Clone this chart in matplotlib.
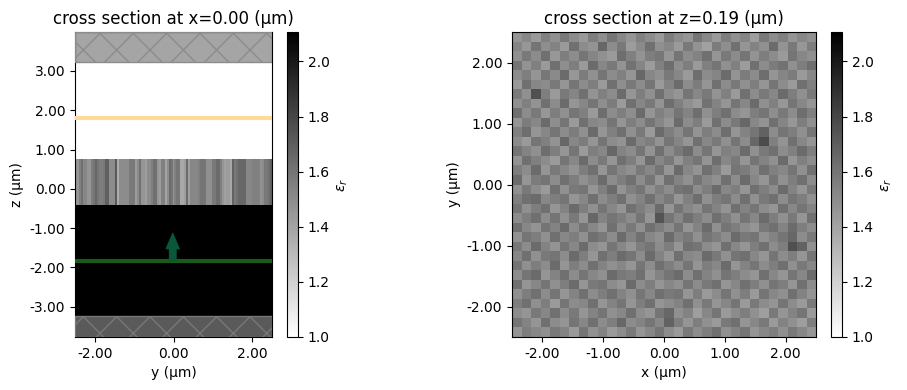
import numpy as np
import matplotlib
matplotlib.use("Agg")
import matplotlib.pyplot as plt
from matplotlib.patches import Rectangle

# Approximate tone readings: strip bands were read from zoomed crops.
strip_eps = [
    1.46,1.46,1.55,1.62,1.52,1.52,1.46,1.46,1.56,1.60,1.66,1.60,1.56,1.56,1.58,1.69,1.69,1.50,1.50,1.50,1.72,1.36,1.50,1.50,1.50,1.50,1.50,1.58,1.58,1.58,1.43,1.50,1.62,
    1.46,1.46,1.42,1.50,1.50,1.55,1.62,1.62,1.46,1.42,1.55,1.55,1.40,1.50,1.64,1.60,1.46,1.55,1.60,1.60,1.38,1.38,1.42,1.64,1.42,1.52,1.52,1.52,1.52,1.55,1.60,1.60,1.60,
    1.48,1.48,1.48,1.58,1.58,1.64,1.64,1.55,1.46,1.41,1.43,1.43,1.38,1.68,1.58,1.62,1.66,1.66,1.66,1.66,1.52,1.52,1.52,1.55,1.55,1.55,1.55,1.47,1.50,1.58,1.58,1.62,1.68,
]
# Coarse (32 x 32) estimate of the 100 x 100 cell slice; not a cell-exact transcription.
slice_eps = [
    [1.46,1.52,1.44,1.55,1.48,1.58,1.50,1.44,1.56,1.49,1.60,1.52,1.46,1.55,1.50,1.44,1.57,1.50,1.46,1.60,1.52,1.44,1.56,1.48,1.53,1.42,1.58,1.50,1.55,1.46,1.52,1.48],
    [1.53,1.45,1.60,1.49,1.54,1.44,1.62,1.50,1.47,1.66,1.50,1.58,1.43,1.51,1.62,1.48,1.52,1.44,1.58,1.47,1.41,1.57,1.49,1.62,1.46,1.54,1.48,1.64,1.47,1.58,1.45,1.56],
    [1.48,1.58,1.50,1.62,1.45,1.56,1.50,1.60,1.53,1.48,1.44,1.63,1.55,1.47,1.56,1.59,1.46,1.60,1.50,1.54,1.62,1.46,1.58,1.50,1.60,1.47,1.56,1.50,1.44,1.60,1.52,1.48],
    [1.60,1.47,1.55,1.44,1.62,1.49,1.56,1.44,1.64,1.52,1.58,1.47,1.61,1.53,1.43,1.55,1.63,1.49,1.56,1.44,1.55,1.60,1.48,1.55,1.43,1.62,1.50,1.57,1.61,1.48,1.56,1.63],
    [1.50,1.56,1.46,1.59,1.51,1.64,1.45,1.57,1.48,1.60,1.50,1.55,1.46,1.66,1.52,1.48,1.58,1.52,1.44,1.63,1.50,1.53,1.64,1.47,1.57,1.50,1.63,1.46,1.53,1.57,1.44,1.52],
    [1.44,1.62,1.52,1.50,1.58,1.46,1.60,1.50,1.56,1.44,1.62,1.49,1.58,1.50,1.60,1.44,1.54,1.64,1.50,1.57,1.46,1.62,1.50,1.58,1.48,1.56,1.46,1.60,1.50,1.44,1.62,1.55],
    [1.57,1.48,1.76,1.56,1.44,1.58,1.53,1.62,1.47,1.55,1.50,1.64,1.46,1.56,1.48,1.62,1.50,1.46,1.60,1.52,1.58,1.47,1.55,1.44,1.62,1.50,1.58,1.52,1.64,1.56,1.48,1.58],
    [1.48,1.55,1.47,1.62,1.50,1.64,1.46,1.52,1.60,1.49,1.57,1.44,1.62,1.52,1.58,1.47,1.63,1.55,1.48,1.44,1.61,1.54,1.46,1.60,1.52,1.64,1.48,1.55,1.45,1.60,1.52,1.46],
    [1.62,1.50,1.58,1.45,1.56,1.48,1.60,1.55,1.44,1.63,1.50,1.56,1.49,1.64,1.46,1.55,1.50,1.60,1.54,1.63,1.48,1.56,1.62,1.50,1.46,1.56,1.60,1.49,1.58,1.50,1.63,1.55],
    [1.46,1.57,1.52,1.64,1.49,1.60,1.44,1.62,1.52,1.50,1.60,1.46,1.56,1.50,1.60,1.52,1.46,1.64,1.50,1.56,1.44,1.62,1.50,1.58,1.66,1.52,1.47,1.62,1.53,1.45,1.56,1.48],
    [1.55,1.63,1.46,1.52,1.60,1.50,1.57,1.48,1.64,1.46,1.55,1.62,1.48,1.58,1.44,1.64,1.56,1.50,1.60,1.47,1.56,1.50,1.63,1.46,1.54,1.60,1.68,1.50,1.60,1.56,1.48,1.60],
    [1.50,1.44,1.60,1.55,1.47,1.66,1.52,1.57,1.46,1.60,1.50,1.47,1.64,1.52,1.56,1.47,1.60,1.53,1.46,1.62,1.52,1.58,1.48,1.60,1.50,1.66,1.78,1.55,1.47,1.62,1.52,1.46],
    [1.60,1.54,1.48,1.63,1.56,1.46,1.60,1.44,1.56,1.52,1.66,1.54,1.50,1.60,1.47,1.62,1.50,1.58,1.64,1.50,1.60,1.46,1.55,1.52,1.64,1.48,1.58,1.62,1.50,1.55,1.64,1.56],
    [1.47,1.62,1.55,1.50,1.44,1.60,1.52,1.64,1.50,1.58,1.46,1.62,1.56,1.46,1.64,1.52,1.58,1.46,1.55,1.60,1.47,1.63,1.52,1.58,1.46,1.60,1.54,1.48,1.64,1.46,1.55,1.50],
    [1.56,1.50,1.64,1.46,1.58,1.52,1.47,1.56,1.62,1.46,1.60,1.52,1.48,1.58,1.52,1.60,1.46,1.64,1.52,1.47,1.62,1.55,1.44,1.60,1.57,1.50,1.62,1.55,1.52,1.60,1.48,1.62],
    [1.64,1.46,1.57,1.60,1.50,1.62,1.56,1.48,1.54,1.64,1.50,1.56,1.62,1.50,1.60,1.46,1.62,1.54,1.48,1.60,1.52,1.48,1.62,1.50,1.64,1.52,1.46,1.60,1.48,1.56,1.62,1.50],
    [1.48,1.58,1.50,1.44,1.62,1.48,1.58,1.60,1.46,1.55,1.64,1.47,1.55,1.60,1.48,1.56,1.50,1.60,1.62,1.50,1.56,1.64,1.52,1.56,1.46,1.62,1.56,1.50,1.64,1.54,1.46,1.58],
    [1.55,1.62,1.64,1.52,1.56,1.60,1.46,1.52,1.62,1.50,1.56,1.62,1.48,1.54,1.62,1.52,1.58,1.46,1.55,1.63,1.48,1.56,1.60,1.50,1.62,1.48,1.58,1.62,1.50,1.60,1.56,1.48],
    [1.60,1.48,1.56,1.62,1.46,1.54,1.64,1.56,1.48,1.60,1.52,1.46,1.62,1.56,1.50,1.64,1.46,1.60,1.52,1.48,1.60,1.54,1.47,1.62,1.54,1.60,1.50,1.46,1.62,1.52,1.60,1.54],
    [1.50,1.56,1.62,1.50,1.60,1.48,1.58,1.46,1.66,1.54,1.60,1.56,1.50,1.60,1.46,1.74,1.60,1.52,1.62,1.56,1.50,1.62,1.56,1.48,1.60,1.52,1.64,1.56,1.48,1.58,1.46,1.62],
    [1.62,1.52,1.47,1.60,1.54,1.64,1.50,1.60,1.52,1.46,1.62,1.50,1.58,1.48,1.62,1.56,1.50,1.60,1.46,1.54,1.64,1.48,1.60,1.56,1.50,1.46,1.58,1.62,1.54,1.64,1.56,1.50],
    [1.47,1.60,1.56,1.48,1.62,1.52,1.56,1.48,1.62,1.58,1.50,1.64,1.54,1.62,1.52,1.48,1.64,1.54,1.58,1.48,1.60,1.56,1.50,1.64,1.58,1.60,1.48,1.54,1.60,1.66,1.50,1.58],
    [1.58,1.50,1.64,1.54,1.47,1.60,1.52,1.64,1.50,1.46,1.60,1.52,1.46,1.56,1.60,1.50,1.56,1.46,1.62,1.60,1.50,1.46,1.62,1.52,1.46,1.56,1.62,1.50,1.56,1.76,1.68,1.48],
    [1.52,1.62,1.48,1.58,1.60,1.50,1.64,1.56,1.46,1.62,1.56,1.64,1.60,1.50,1.64,1.54,1.46,1.62,1.52,1.50,1.64,1.58,1.48,1.60,1.62,1.52,1.46,1.60,1.50,1.56,1.46,1.60],
    [1.60,1.48,1.56,1.50,1.64,1.46,1.56,1.50,1.62,1.54,1.48,1.52,1.46,1.60,1.50,1.62,1.56,1.50,1.60,1.46,1.56,1.52,1.64,1.46,1.54,1.60,1.50,1.56,1.62,1.48,1.58,1.52],
    [1.50,1.60,1.64,1.46,1.54,1.62,1.50,1.60,1.52,1.48,1.64,1.58,1.56,1.62,1.46,1.54,1.60,1.64,1.50,1.62,1.54,1.48,1.60,1.56,1.50,1.46,1.62,1.52,1.46,1.60,1.52,1.64],
    [1.62,1.46,1.52,1.60,1.48,1.56,1.64,1.46,1.58,1.60,1.50,1.46,1.64,1.50,1.56,1.46,1.52,1.48,1.60,1.50,1.58,1.62,1.46,1.52,1.62,1.56,1.48,1.60,1.56,1.46,1.62,1.50],
    [1.48,1.56,1.62,1.50,1.60,1.46,1.54,1.62,1.50,1.56,1.62,1.54,1.48,1.60,1.52,1.62,1.58,1.60,1.46,1.56,1.44,1.50,1.60,1.48,1.56,1.44,1.60,1.52,1.48,1.62,1.54,1.46],
    [1.56,1.62,1.48,1.56,1.44,1.60,1.50,1.52,1.62,1.46,1.54,1.60,1.46,1.56,1.62,1.46,1.50,1.54,1.62,1.48,1.58,1.46,1.52,1.60,1.44,1.58,1.50,1.46,1.60,1.50,1.44,1.58],
    [1.50,1.46,1.58,1.52,1.62,1.50,1.58,1.46,1.54,1.60,1.48,1.52,1.62,1.50,1.46,1.60,1.66,1.48,1.54,1.42,1.52,1.60,1.44,1.50,1.56,1.48,1.42,1.58,1.46,1.54,1.60,1.44],
    [1.60,1.54,1.46,1.62,1.50,1.46,1.60,1.52,1.62,1.50,1.56,1.66,1.50,1.54,1.60,1.52,1.68,1.56,1.46,1.56,1.48,1.44,1.58,1.62,1.46,1.52,1.58,1.44,1.54,1.48,1.42,1.56],
    [1.46,1.56,1.52,1.48,1.58,1.54,1.44,1.60,1.48,1.54,1.44,1.50,1.58,1.46,1.52,1.60,1.50,1.44,1.58,1.50,1.56,1.62,1.48,1.54,1.60,1.46,1.52,1.56,1.48,1.58,1.52,1.46],
]
y_ticks_left = [-2, 0, 2]
z_ticks_left = [-3, -2, -1, 0, 1, 2, 3]
ticks_right = [-2, -1, 0, 1, 2]
cbar_ticks = [1.0, 1.2, 1.4, 1.6, 1.8, 2.0]

W, H = 907, 390
fig = plt.figure(figsize=(W / 100, H / 100), dpi=100)

def ax_px(x0, y0, x1, y1):
    return fig.add_axes([x0 / W, 1 - y1 / H, (x1 - x0) / W, (y1 - y0) / H])

vmin, vmax = 1.0, 2.107
cmap = "gray_r"
fmt = lambda v, p=None: f"{v:.2f}"

# Left panel
ax = ax_px(75, 32, 272, 337)
ylo, yhi, zlo, zhi = -2.5, 2.5, -3.77, 3.99
z_strip_bot, z_strip_top = -0.41, 0.76
z_pml_top, z_pml_bot = 3.22, -3.23
ax.add_patch(Rectangle((ylo, z_pml_top), yhi - ylo, zhi - z_pml_top, fc="#a5a5a5", ec="none", zorder=1))
ax.add_patch(Rectangle((ylo, zlo), yhi - ylo, z_pml_bot - zlo, fc="#5a5a5a", ec="none", zorder=1))
ax.add_patch(Rectangle((ylo, z_strip_bot), yhi - ylo, z_pml_bot - z_strip_bot, fc="black", ec="none", zorder=1))
edges = np.linspace(ylo, yhi, len(strip_eps) + 1)
ax.pcolormesh(edges, [z_strip_bot, z_strip_top], np.array([strip_eps]), cmap=cmap, vmin=vmin, vmax=vmax, zorder=2)
plt.rcParams["hatch.linewidth"] = 1.0
ax.add_patch(Rectangle((ylo, z_pml_top), yhi - ylo, zhi - z_pml_top, fc="none", ec="#8c8c8c", hatch="x", lw=1, zorder=3))
ax.add_patch(Rectangle((ylo, zlo), yhi - ylo, z_pml_bot - zlo, fc="none", ec="#787878", hatch="x", lw=1, zorder=3))
ax.axhline(1.8, color="#ffd89c", lw=3.0, zorder=4)
ax.axhline(-1.83, color="#1a5a1a", lw=3.0, zorder=4)
ax.arrow(-0.02, -1.83, 0, 0.71, width=0.18, head_width=0.35, head_length=0.41,
         length_includes_head=True, fc="#0a583a", ec="#0a583a", lw=0.5, zorder=5)
ax.set_xlim(ylo, yhi)
ax.set_ylim(zlo, zhi)
ax.set_xticks(y_ticks_left)
ax.set_yticks(z_ticks_left)
ax.xaxis.set_major_formatter(fmt)
ax.yaxis.set_major_formatter(fmt)
ax.set_xlabel("y (μm)")
ax.set_ylabel("z (μm)")
ax.set_title("cross section at x=0.00 (μm)")

sm = plt.cm.ScalarMappable(norm=plt.Normalize(vmin, vmax), cmap=cmap)
cax = ax_px(287, 32, 298, 337)
cb = fig.colorbar(sm, cax=cax)
cb.set_ticks(cbar_ticks)
cb.set_label(r"$\epsilon_r$")

# Right panel
ax2 = ax_px(512, 32, 816, 337)
n = len(slice_eps)
xe = np.linspace(-2.5, 2.5, n + 1)
ax2.pcolormesh(xe, xe[::-1], np.array(slice_eps), cmap=cmap, vmin=vmin, vmax=vmax)
ax2.set_xlim(-2.5, 2.5)
ax2.set_ylim(-2.5, 2.5)
ax2.set_xticks(ticks_right)
ax2.set_yticks(ticks_right)
ax2.xaxis.set_major_formatter(fmt)
ax2.yaxis.set_major_formatter(fmt)
ax2.set_xlabel("x (μm)")
ax2.set_ylabel("y (μm)")
ax2.set_title("cross section at z=0.19 (μm)")

cax2 = ax_px(831, 32, 842, 337)
cb2 = fig.colorbar(sm, cax=cax2)
cb2.set_ticks(cbar_ticks)
cb2.set_label(r"$\epsilon_r$")

fig.savefig("out.png", dpi=100)
